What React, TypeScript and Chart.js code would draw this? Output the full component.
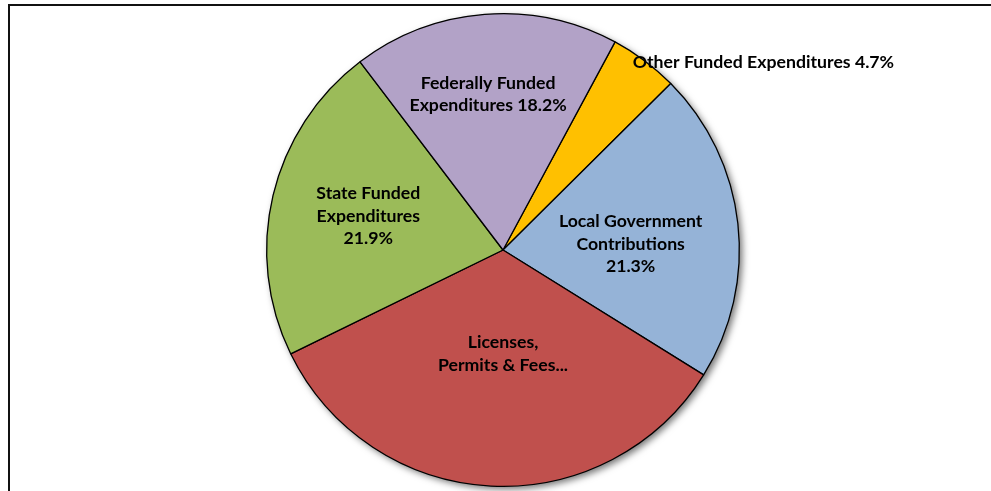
import React, { useEffect, useRef } from "react";
import { Chart, registerables } from "chart.js";

Chart.register(...registerables);

const categories = [
  "Other Funded Expenditures",
  "Local Government Contributions",
  "Licenses, Permits & Fees",
  "State Funded Expenditures",
  "Federally Funded Expenditures",
];
const values = [4.7, 21.3, 33.9, 21.9, 18.2];
const labelLines = [
  ["Other Funded Expenditures 4.7%"],
  ["Local Government", "Contributions", "21.3%"],
  ["Licenses,", "Permits & Fees..."],
  ["State Funded", "Expenditures", "21.9%"],
  ["Federally Funded", "Expenditures 18.2%"],
];
const colors = ["#FFC000", "#95B3D7", "#C0504D", "#9BBB59", "#B2A2C7"];

// label anchor offsets, as fractions of the pie radius from the centre
const labelOffsets = [
  { fx: 0.549, fy: -0.793, align: "left" },
  { fx: 0.54, fy: -0.025, align: "center" },
  { fx: 0.0, fy: 0.439, align: "center" },
  { fx: -0.57, fy: -0.143, align: "center" },
  { fx: -0.063, fy: -0.658, align: "center" },
];

const FONT = "bold 17.7px Lato, 'Liberation Sans', sans-serif";
const LINE_H = 22.5;

const framePlugin = {
  id: "frame",
  beforeDraw(chart: any) {
    const ctx = chart.ctx;
    ctx.save();
    ctx.fillStyle = "#ffffff";
    ctx.fillRect(0, 0, chart.width, chart.height);
    ctx.strokeStyle = "#111";
    ctx.lineWidth = 2;
    ctx.beginPath();
    ctx.moveTo(chart.width, 5);
    ctx.lineTo(9, 5);
    ctx.lineTo(9, chart.height);
    ctx.stroke();
    ctx.restore();
  },
};

const shadowPlugin = {
  id: "pieShadow",
  beforeDatasetsDraw(chart: any) {
    const meta = chart.getDatasetMeta(0);
    const arc = meta.data[0];
    if (!arc) return;
    const { x, y, outerRadius } = arc.getProps(["x", "y", "outerRadius"], true);
    const ctx = chart.ctx;
    ctx.save();
    ctx.shadowColor = "rgba(0,0,0,0.55)";
    ctx.shadowBlur = 7;
    ctx.shadowOffsetX = 3;
    ctx.shadowOffsetY = 3;
    ctx.fillStyle = "#888";
    ctx.beginPath();
    ctx.arc(x, y, outerRadius, 0, Math.PI * 2);
    ctx.fill();
    ctx.restore();
  },
};

const labelPlugin = {
  id: "sliceLabels",
  afterDatasetsDraw(chart: any) {
    const meta = chart.getDatasetMeta(0);
    const ctx = chart.ctx;
    ctx.save();
    ctx.font = FONT;
    ctx.fillStyle = "#000";
    ctx.textBaseline = "middle";
    meta.data.forEach((arc: any, i: number) => {
      const { x, y, outerRadius } = arc.getProps(["x", "y", "outerRadius"], true);
      const off = labelOffsets[i];
      const lines = labelLines[i];
      const cx = x + off.fx * outerRadius;
      const cy = y + off.fy * outerRadius;
      ctx.textAlign = off.align;
      const startY = cy - ((lines.length - 1) * LINE_H) / 2;
      lines.forEach((ln, j) => {
        ctx.fillText(ln, cx, startY + j * LINE_H);
      });
    });
    ctx.restore();
  },
};

export default function App() {
  const ref = useRef<HTMLCanvasElement>(null);
  useEffect(() => {
    if (!ref.current) return;
    const chart = new Chart(ref.current, {
      type: "pie",
      data: {
        labels: categories,
        datasets: [
          {
            data: values,
            backgroundColor: colors,
            borderColor: "#000",
            borderWidth: 1.3,
          },
        ],
      },
      options: {
        responsive: false,
        animation: false,
        rotation: 28.3,
        layout: { padding: { left: 266, right: 251, top: 13, bottom: 4 } },
        plugins: {
          legend: { display: false },
          tooltip: { enabled: false },
        },
      },
      plugins: [framePlugin, shadowPlugin, labelPlugin],
    });
    return () => chart.destroy();
  }, []);
  return (
    <div style={{ position: "fixed", left: 0, top: 0, width: 991, height: 491, background: "#fff" }}>
      <canvas ref={ref} width={991} height={491} style={{ display: "block" }} />
    </div>
  );
}
